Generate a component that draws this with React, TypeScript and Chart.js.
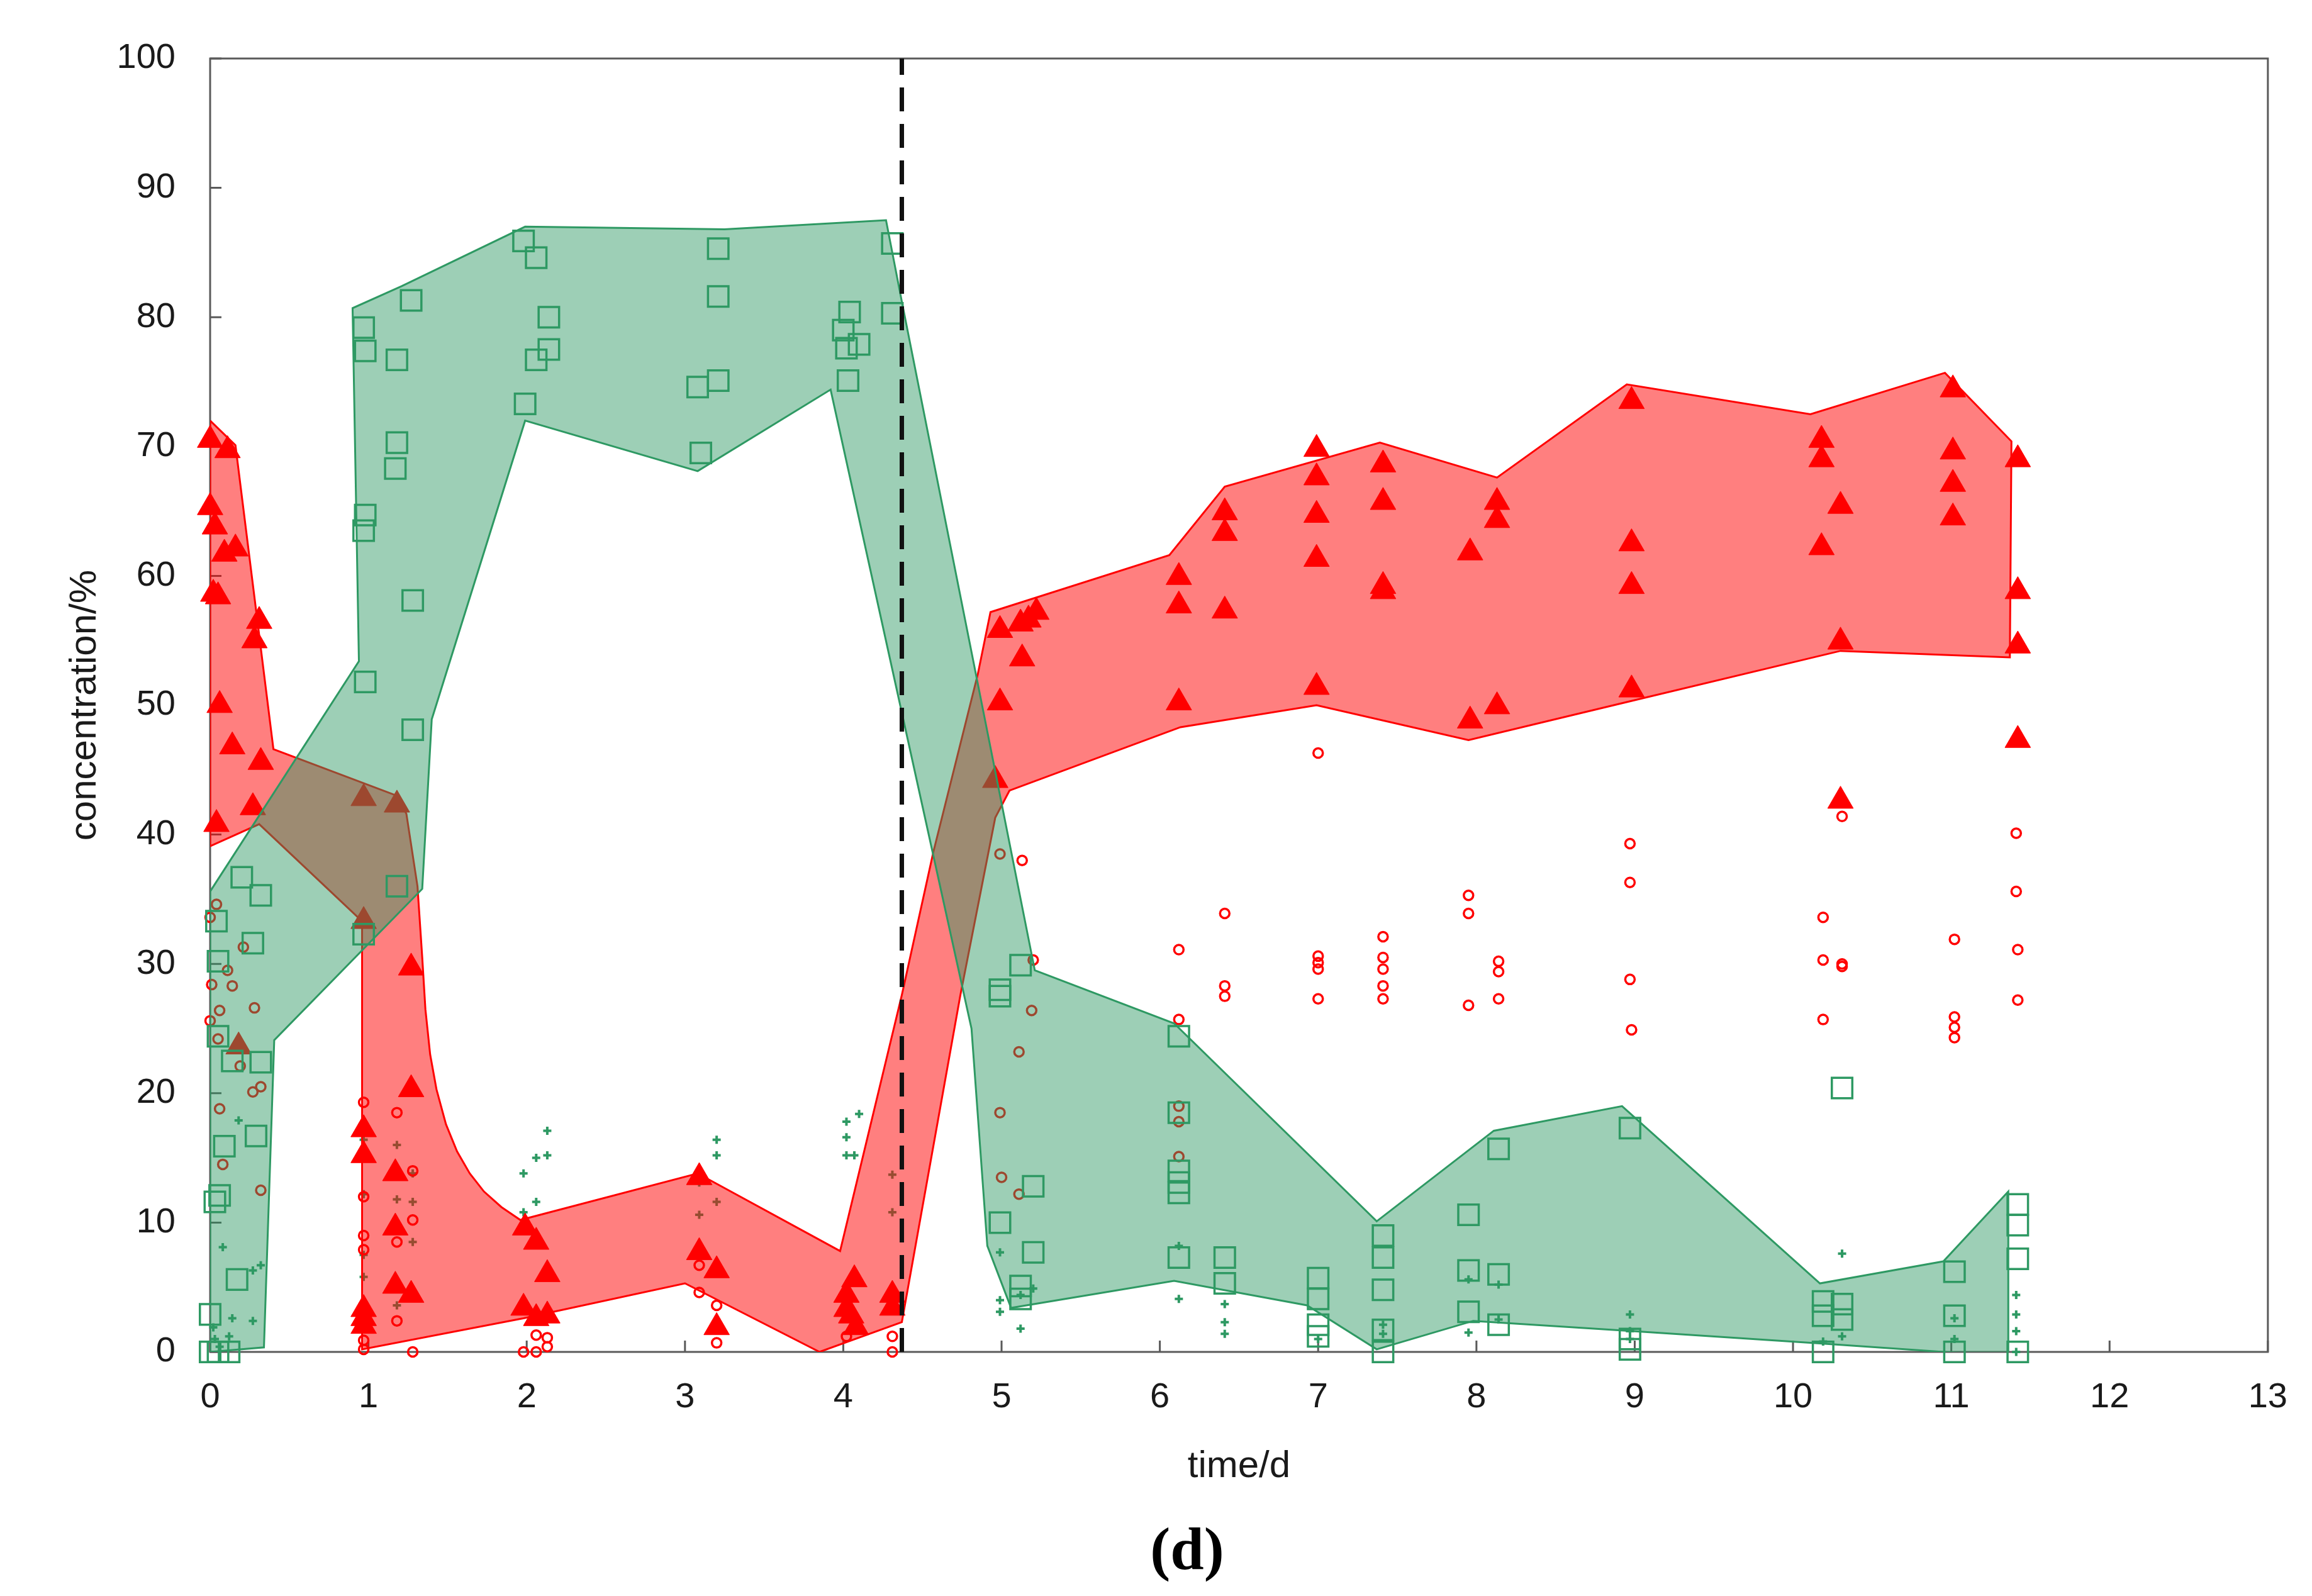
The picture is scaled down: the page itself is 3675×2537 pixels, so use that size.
import { useEffect, useRef } from "react";
import { Chart, registerables, type ChartConfiguration, type Plugin } from "chart.js";

Chart.register(...registerables);

type Pt = [number, number];

// outline of the red band (upper edge and lower edge, both left to right)
const redUpper: Pt[] = [
  [0, 72], [0.16, 70.1], [0.4, 46.6], [1.18, 43.0], [1.24, 41.6], [1.31, 36.0],
  [1.34, 30.5], [1.36, 26.5], [1.39, 23.0], [1.43, 20.3], [1.49, 17.6], [1.56, 15.5],
  [1.64, 13.8], [1.73, 12.4], [1.84, 11.2], [1.96, 10.2], [3.08, 13.8],
  [3.98, 7.8], [4.37, 27.6], [4.57, 38.7], [4.85, 52.4], [4.93, 57.2], [6.06, 61.6],
  [6.41, 66.9], [7.39, 70.3], [8.13, 67.6], [8.95, 74.8], [10.11, 72.5], [10.96, 75.7],
  [11.38, 70.4],
];
const redLower: Pt[] = [
  [0, 39.1], [0.31, 40.8], [0.96, 33.3], [0.96, 0.2], [1.98, 2.6], [3.0, 5.3],
  [3.85, 0], [4.37, 2.3], [4.74, 27.6], [4.96, 41.3], [5.05, 43.4], [6.13, 48.3],
  [6.99, 50.0], [7.95, 47.3], [8.9, 50.1], [10.3, 54.2], [11.37, 53.7],
];

// outline of the green band
const greenUpper: Pt[] = [
  [0, 0], [0, 35.6], [0.94, 53.4], [0.9, 80.7], [1.21, 82.4], [1.99, 87.0],
  [3.25, 86.8], [4.27, 87.5], [4.37, 81.2], [5.21, 29.5], [6.09, 25.4], [7.37, 10.1],
  [8.11, 17.1], [8.92, 19.0], [10.17, 5.3], [10.95, 7.0], [11.36, 12.4],
];
const greenLower: Pt[] = [
  [0.34, 0.35], [0.405, 24.1], [1.34, 35.8], [1.4, 48.9], [1.99, 72.0], [3.08, 68.1],
  [3.92, 74.4], [4.81, 25.0], [4.91, 8.2], [5.06, 3.4], [6.09, 5.5], [6.93, 3.6],
  [7.37, 0.2], [7.98, 2.4], [8.99, 1.6], [10.17, 0.66], [10.95, 0], [11.36, -0.3],
];

const triangles: Pt[] = [
  [0, 70.5], [0.11, 69.7], [0, 65.3], [0.03, 63.8], [0.09, 61.7], [0.16, 62.1],
  [0.02, 58.6], [0.05, 58.4], [0.31, 56.5], [0.28, 55.0], [0.06, 50.0], [0.14, 46.8],
  [0.32, 45.6], [0.27, 42.1], [0.04, 40.8], [0.18, 23.6],
  [0.97, 42.8], [1.18, 42.3], [0.97, 33.3], [1.27, 29.7], [1.27, 20.3], [0.97, 17.2],
  [0.97, 15.2], [1.17, 13.8], [1.17, 9.6], [1.17, 5.1], [1.27, 4.4], [0.97, 3.3],
  [0.97, 2.6], [0.97, 2.0],
  [1.99, 9.6], [2.06, 8.5], [2.13, 6.0], [1.98, 3.4], [2.06, 2.6], [2.13, 2.8],
  [3.09, 13.5], [3.09, 7.7], [3.2, 6.3], [3.2, 1.9],
  [4.02, 4.4], [4.07, 5.6], [4.02, 3.3], [4.05, 2.8], [4.08, 1.9], [4.31, 4.4], [4.31, 3.4],
  [4.99, 55.8], [5.12, 56.3], [5.17, 56.6], [5.22, 57.2], [5.13, 53.6], [4.99, 50.2], [4.96, 44.2],
  [6.12, 59.9], [6.12, 57.7], [6.12, 50.2],
  [6.41, 64.9], [6.41, 63.3], [6.41, 57.3],
  [6.99, 69.8], [6.99, 67.6], [6.99, 64.7], [6.99, 61.3], [6.99, 51.4],
  [7.41, 68.6], [7.41, 65.7], [7.41, 59.2], [7.41, 58.8],
  [7.96, 61.8], [7.96, 48.8],
  [8.13, 65.7], [8.13, 64.3], [8.13, 49.9],
  [8.98, 73.5], [8.98, 62.5], [8.98, 59.2], [8.98, 51.2],
  [10.18, 70.5], [10.18, 69.0], [10.18, 62.2],
  [10.3, 65.4], [10.3, 54.9], [10.3, 42.6],
  [11.01, 74.4], [11.01, 69.6], [11.01, 67.1], [11.01, 64.5],
  [11.42, 69.0], [11.42, 58.8], [11.42, 54.6], [11.42, 47.3],
];

const squares: Pt[] = [
  [0.2, 36.7], [0.32, 35.3], [0.04, 33.3], [0.27, 31.6], [0.05, 30.2], [0.05, 24.4],
  [0.14, 22.5], [0.32, 22.4], [0.29, 16.7], [0.09, 15.9], [0.06, 12.1], [0.03, 11.6],
  [0.17, 5.6], [0, 2.9], [0, 0], [0.05, 0], [0.12, 0],
  [0.97, 79.2], [0.98, 77.4], [1.27, 81.3], [1.18, 76.7], [1.18, 70.3], [1.17, 68.3],
  [0.98, 64.7], [0.97, 63.5], [1.28, 58.1], [0.98, 51.8], [1.28, 48.1], [0.97, 32.3], [1.18, 36.0],
  [1.98, 85.9], [2.06, 84.6], [2.14, 80.0], [2.14, 77.5], [2.06, 76.7], [1.99, 73.3],
  [3.21, 85.3], [3.21, 81.6], [3.21, 75.1], [3.08, 74.6], [3.1, 69.5],
  [4.31, 85.7], [4.31, 80.3], [4.04, 80.4], [4.0, 79.0], [4.1, 77.9], [4.02, 77.6], [4.03, 75.1],
  [5.12, 29.9], [4.99, 28.0], [4.99, 27.5], [5.2, 12.8], [4.99, 10.0], [5.2, 7.7], [5.12, 5.1], [5.12, 4.1],
  [6.12, 24.4], [6.12, 18.5], [6.12, 14.0], [6.12, 13.1], [6.12, 12.3], [6.12, 7.3],
  [6.41, 7.3], [6.41, 5.3],
  [7.0, 5.7], [7.0, 4.1], [7.0, 2.1], [7.0, 1.2],
  [7.41, 9.0], [7.41, 7.3], [7.41, 4.8], [7.41, 1.7], [7.41, 0],
  [7.95, 10.6], [7.95, 6.3], [7.95, 3.1],
  [8.14, 15.7], [8.14, 6.0], [8.14, 2.1],
  [8.97, 17.3], [8.97, 1.0], [8.97, 0.2],
  [10.19, 3.9], [10.19, 2.8], [10.19, 0],
  [10.31, 20.4], [10.31, 3.7], [10.31, 2.5],
  [11.02, 6.2], [11.02, 2.8], [11.02, 0],
  [11.42, 11.4], [11.42, 9.8], [11.42, 7.2], [11.42, 0],
];

const circles: Pt[] = [
  [0.04, 34.6], [0, 33.6], [0.21, 31.3], [0.11, 29.5], [0.01, 28.4], [0.14, 28.3],
  [0.06, 26.4], [0.28, 26.6], [0, 25.6], [0.05, 24.2], [0.19, 22.1], [0.27, 20.1],
  [0.32, 20.5], [0.06, 18.8], [0.08, 14.5], [0.32, 12.5],
  [0.97, 19.3], [1.18, 18.5], [0.97, 12.0], [1.28, 14.0], [1.28, 10.2], [0.97, 9.0],
  [0.97, 7.9], [1.18, 8.5], [1.18, 2.4], [0.97, 0.9], [0.97, 0.2], [1.28, 0],
  [1.98, 0], [2.06, 0], [2.06, 1.3], [2.13, 1.1], [2.13, 0.4],
  [3.09, 6.7], [3.09, 4.6], [3.2, 3.6], [3.2, 0.7],
  [4.02, 1.2], [4.31, 1.2], [4.31, 0],
  [4.99, 38.5], [5.13, 38.0], [5.2, 30.3], [5.19, 26.4], [5.11, 23.2], [4.99, 18.5], [5.0, 13.5], [5.11, 12.2],
  [6.12, 31.1], [6.12, 25.7], [6.12, 19.0], [6.12, 17.8], [6.12, 15.1],
  [6.41, 33.9], [6.41, 28.3], [6.41, 27.5],
  [7.0, 46.3], [7.0, 30.6], [7.0, 30.1], [7.0, 29.6], [7.0, 27.3],
  [7.41, 32.1], [7.41, 30.5], [7.41, 29.6], [7.41, 28.3], [7.41, 27.3],
  [7.95, 35.3], [7.95, 33.9], [7.95, 26.8],
  [8.14, 30.2], [8.14, 29.4], [8.14, 27.3],
  [8.97, 39.3], [8.97, 36.3], [8.97, 28.8], [8.98, 24.9],
  [10.19, 33.6], [10.19, 30.3], [10.19, 25.7],
  [10.31, 41.4], [10.31, 30.0], [10.31, 29.8],
  [11.02, 31.9], [11.02, 25.9], [11.02, 25.1], [11.02, 24.3],
  [11.41, 40.1], [11.41, 35.6], [11.42, 31.1], [11.42, 27.2],
];

const pluses: Pt[] = [
  [0.18, 17.9], [0.08, 8.1], [0.32, 6.7], [0.27, 6.3], [0.14, 2.6], [0.27, 2.4],
  [0.02, 1.9], [0.03, 1.0], [0.12, 1.2], [0.06, 0.4],
  [0.97, 16.4], [1.18, 16.0], [1.28, 13.8], [0.97, 12.2], [1.18, 11.8], [1.28, 11.6],
  [1.18, 9.4], [1.28, 8.5], [0.97, 7.5], [0.97, 5.8], [1.18, 3.6],
  [1.98, 10.8], [1.98, 13.8], [2.06, 15.0], [2.13, 15.2], [2.13, 17.1], [2.06, 11.6],
  [3.2, 16.4], [3.2, 15.2], [3.09, 13.1], [3.2, 11.6], [3.09, 10.6],
  [4.02, 17.8], [4.1, 18.4], [4.02, 16.6], [4.02, 15.2], [4.07, 15.2], [4.31, 13.7], [4.31, 10.8],
  [4.99, 7.7], [4.99, 4.0], [4.99, 3.1], [5.12, 1.8], [5.2, 4.9], [5.12, 4.4],
  [6.12, 8.2], [6.12, 4.1],
  [6.41, 3.7], [6.41, 2.3], [6.41, 1.4],
  [7.0, 1.0],
  [7.41, 2.1], [7.41, 1.4],
  [7.95, 5.6], [7.95, 1.5],
  [8.14, 5.2], [8.14, 2.5],
  [8.97, 2.9], [8.97, 1.6], [8.97, 1.0],
  [10.31, 7.6], [10.31, 1.2], [10.19, 0.8],
  [11.02, 2.6], [11.02, 1.0],
  [11.41, 4.4], [11.41, 2.9], [11.41, 1.6], [11.41, 0],
];

// vertical dashed marker
const switchLine: Pt[] = [[4.37, 0], [4.37, 100]];

const RED = "#ff0000";
const GREEN = "#2e9963";

const toXY = (pts: Pt[]) => pts.map(([x, y]) => ({ x, y }));
const polygon = (upper: Pt[], lower: Pt[]) =>
  toXY([...upper, ...[...lower].reverse(), upper[0]]);

// box around the plot and the small inward tick marks
const framePlugin: Plugin = {
  id: "frame",
  beforeDatasetsDraw(chart) {
    const { ctx, chartArea, scales } = chart;
    const { left, right, top, bottom } = chartArea;
    ctx.save();
    ctx.strokeStyle = "#5a5a5a";
    ctx.lineWidth = 3;
    ctx.strokeRect(left, top, right - left, bottom - top);
    ctx.beginPath();
    scales.x.ticks.forEach((t) => {
      const px = scales.x.getPixelForValue(t.value);
      ctx.moveTo(px, bottom);
      ctx.lineTo(px, bottom - 18);
    });
    scales.y.ticks.forEach((t) => {
      const py = scales.y.getPixelForValue(t.value);
      ctx.moveTo(left, py);
      ctx.lineTo(left + 18, py);
    });
    ctx.stroke();
    ctx.restore();
  },
};

const scatterBase = {
  showLine: false,
  clip: 40,
  pointBackgroundColor: "rgba(0,0,0,0)",
};

export default function App() {
  const canvasRef = useRef<HTMLCanvasElement | null>(null);
  const chartRef = useRef<Chart | null>(null);

  useEffect(() => {
    if (!canvasRef.current) return;
    chartRef.current?.destroy();

    Chart.defaults.font.family = "'Liberation Sans', Arial, sans-serif";

    const config: ChartConfiguration<"line"> = {
      type: "line",
      data: {
        datasets: [
          {
            label: "switch",
            data: toXY(switchLine),
            borderColor: "#111111",
            borderWidth: 7,
            borderDash: [38, 20],
            pointRadius: 0,
            order: 0,
          },
          {
            ...scatterBase,
            label: "squares",
            data: toXY(squares),
            pointStyle: "rect",
            pointRadius: 23,
            pointBorderColor: GREEN,
            pointBorderWidth: 3.5,
            borderColor: GREEN,
            order: 1,
          },
          {
            label: "green band",
            data: polygon(greenUpper, greenLower),
            borderColor: GREEN,
            borderWidth: 3,
            backgroundColor: "rgba(46,153,99,0.47)",
            fill: "shape",
            pointRadius: 0,
            tension: 0,
            order: 2,
          },
          {
            ...scatterBase,
            label: "circles",
            data: toXY(circles),
            pointStyle: "circle",
            pointRadius: 7.5,
            pointBorderColor: RED,
            pointBorderWidth: 3.5,
            borderColor: RED,
            order: 3,
          },
          {
            ...scatterBase,
            label: "triangles",
            data: toXY(triangles),
            pointStyle: "triangle",
            pointRadius: 23.5,
            pointBackgroundColor: RED,
            pointBorderColor: RED,
            pointBorderWidth: 1,
            borderColor: RED,
            order: 4,
          },
          {
            label: "red band",
            data: polygon(redUpper, redLower),
            borderColor: RED,
            borderWidth: 3,
            backgroundColor: "rgba(255,0,0,0.5)",
            fill: "shape",
            pointRadius: 0,
            tension: 0,
            order: 5,
          },
          {
            ...scatterBase,
            label: "pluses",
            data: toXY(pluses),
            pointStyle: "cross",
            pointRadius: 6.5,
            pointBorderColor: GREEN,
            pointBorderWidth: 4,
            borderColor: GREEN,
            order: 6,
          },
        ],
      },
      options: {
        animation: false,
        responsive: true,
        maintainAspectRatio: false,
        devicePixelRatio: 1,
        events: [],
        layout: { padding: { left: 0, top: 93, right: 57, bottom: 0 } },
        plugins: {
          legend: { display: false },
          tooltip: { enabled: false },
        },
        scales: {
          x: {
            type: "linear",
            min: 0,
            max: 13,
            grid: { display: false, drawTicks: false },
            border: { display: false },
            ticks: { stepSize: 1, padding: 39, color: "#1a1a1a", font: { size: 56 } },
            title: {
              display: true,
              text: "time/d",
              color: "#1a1a1a",
              font: { size: 60 },
              padding: { top: 0, bottom: 170 },
            },
            afterFit: (s) => {
              s.height = 388;
            },
          },
          y: {
            type: "linear",
            min: 0,
            max: 100,
            grid: { display: false, drawTicks: false },
            border: { display: false },
            ticks: { stepSize: 10, padding: 55, color: "#1a1a1a", font: { size: 56 } },
            title: {
              display: true,
              text: "concentration/%",
              color: "#1a1a1a",
              font: { size: 60 },
              padding: { top: 99, bottom: 0 },
            },
            afterFit: (s) => {
              s.width = 334;
            },
          },
        },
      },
      plugins: [framePlugin],
    };

    chartRef.current = new Chart(canvasRef.current, config);
    return () => {
      chartRef.current?.destroy();
      chartRef.current = null;
    };
  }, []);

  return (
    <div
      style={{
        position: "fixed",
        left: 0,
        top: 0,
        width: 3675,
        height: 2537,
        background: "#ffffff",
      }}
    >
      <canvas ref={canvasRef} />
      <div
        style={{
          position: "absolute",
          left: 1887,
          top: 2414,
          transform: "translateX(-50%)",
          fontFamily: "'Liberation Serif', 'Times New Roman', serif",
          fontWeight: "bold",
          fontSize: 96,
          lineHeight: "96px",
          color: "#000",
        }}
      >
        (d)
      </div>
    </div>
  );
}
